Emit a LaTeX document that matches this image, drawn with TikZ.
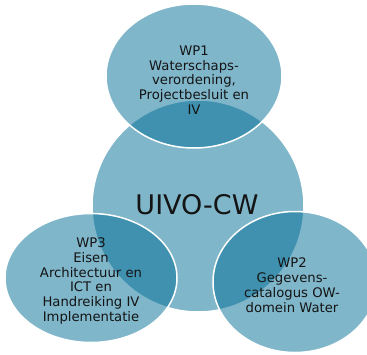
\documentclass[tikz,border=0pt]{standalone}
\usepackage{fontspec}
\setmainfont{DejaVu Sans}
\usetikzlibrary{shapes.geometric}
\definecolor{circfill}{RGB}{0,109,149}
\definecolor{txt}{RGB}{20,20,20}
\begin{document}
\begin{tikzpicture}[x=1pt,y=-1pt,
  circ/.style={ellipse, fill=circfill, fill opacity=0.5, draw=white, line width=1.5pt, inner sep=0pt},
  lbl/.style={inner sep=0pt, text=txt, align=center, font=\fontsize{13.2}{14.8}\selectfont},
]
\useasboundingbox (0,0) rectangle (367,354);
\node[circ, minimum width=212pt, minimum height=212pt] (core) at (198,206) {};
\node[circ, minimum width=176pt, minimum height=144pt] (wp1) at (194,76) {};
\node[circ, minimum width=164pt, minimum height=141pt] (wp2) at (295,282) {};
\node[circ, minimum width=172pt, minimum height=129pt] (wp3) at (91,278) {};
\node[lbl, font=\fontsize{27}{30}\selectfont] (coret) at (197,205) {UIVO-CW};
\node[lbl] (wp1t) at (194,80) {WP1\\Waterschaps-\\verordening,\\Projectbesluit en\\IV};
\node[lbl] (wp2t) at (292,285) {WP2\\Gegevens-\\catalogus OW-\\domein Water};
\node[lbl] (wp3t) at (91,281) {WP3\\Eisen\\Architectuur en\\ICT en\\Handreiking IV\\Implementatie};
\end{tikzpicture}
\end{document}
